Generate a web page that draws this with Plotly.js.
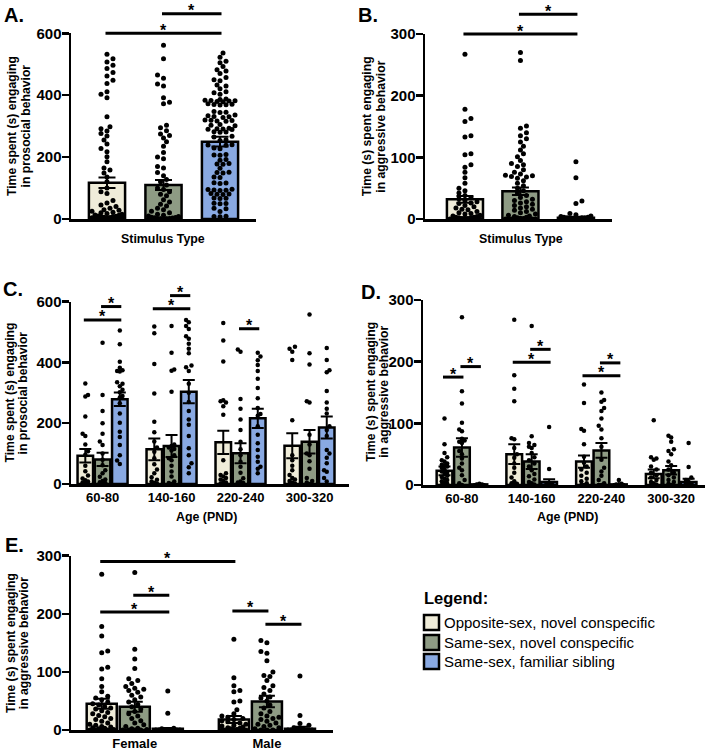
<!DOCTYPE html>
<html><head><meta charset="utf-8">
<script src="https://cdn.plot.ly/plotly-3.0.1.min.js"></script>
<style>html,body{margin:0;padding:0;background:#fff}#chart{width:708px;height:750px}</style>
</head><body><div id="chart"></div>
<script>
// ================= DATA =================
const stimulusTypes = ['Opposite-sex, novel conspecific', 'Same-sex, novel conspecific', 'Same-sex, familiar sibling'];
const ageGroups = ['60-80', '140-160', '220-240', '300-320'];
const sexGroups = ['Female', 'Male'];

// Panel A: prosocial behaviour by stimulus type
const prosocialMean = [117, 110, 250];
const prosocialSEM = [17, 16, 16];
const prosocialOpp = [532, 518, 507, 497, 486, 473, 462, 448, 438, 411, 403, 392, 330, 298, 292, 284, 276, 268, 255, 242, 228, 217, 201, 185, 165, 158, 149, 136, 120, 100, 88, 82, 60, 52, 45, 40, 35, 30, 28, 25, 22, 20, 18, 15, 13, 12, 10, 9, 8, 7, 6, 5, 5, 4, 4, 3, 3, 2, 2, 2, 1, 1, 1, 1, 0, 0, 0, 0, 0, 0, 0, 0, 0, 0, 0, 0, 0, 0, 0, 0, 0, 0, 0, 0];
const prosocialSame = [561, 518, 465, 455, 436, 430, 392, 377, 372, 303, 295, 285, 275, 270, 262, 250, 235, 215, 200, 195, 170, 165, 150, 140, 128, 120, 110, 100, 95, 88, 80, 75, 62, 55, 48, 42, 35, 30, 25, 20, 15, 12, 10, 8, 6, 5, 4, 3, 2, 2, 1, 1, 1, 0, 0, 0, 0, 0, 0, 0, 0, 0, 0, 0, 0, 0, 0, 0, 0, 0, 0, 0, 0, 0];
const prosocialSib = [536, 523, 510, 505, 493, 482, 478, 470, 457, 450, 447, 433, 430, 421, 411, 408, 403, 388, 386, 384, 383, 382, 381, 380, 379, 372, 371, 370, 369, 368, 347, 345, 344, 336, 334, 331, 330, 328, 320, 319, 318, 317, 316, 305, 303, 301, 293, 292, 291, 290, 289, 282, 281, 280, 267, 265, 256, 254, 240, 239, 238, 229, 227, 208, 207, 206, 192, 190, 179, 178, 177, 164, 151, 150, 149, 136, 134, 117, 116, 115, 96, 95, 94, 93, 92, 82, 81, 80, 79, 68, 67, 66, 51, 50, 49, 35, 33, 24, 9, 8, 7];
const prosocialSig = [[0, 2, 600], [1, 2, 663]];

// Panel B: aggressive behaviour by stimulus type
const aggressMean = [32, 45, 2];
const aggressSEM = [5.5, 6, 1.5];
const aggressOpp = [267, 178, 163, 158, 135, 133, 106, 104, 88, 84, 76, 67, 58, 50, 46, 42, 38, 35, 33, 30, 28, 26, 25, 22, 20, 18, 16, 15, 12, 10, 9, 8, 6, 5, 4, 3, 3, 2, 2, 1, 1, 1, 0, 0, 0, 0, 0, 0, 0, 0, 0, 0, 0, 0, 0, 0, 0, 0, 0, 0, 0, 0, 0, 0, 0, 0, 0];
const aggressSame = [270, 257, 151, 147, 140, 135, 130, 125, 118, 112, 106, 101, 95, 90, 88, 85, 80, 76, 73, 71, 70, 69, 68, 66, 62, 58, 54, 50, 46, 42, 38, 35, 32, 30, 28, 26, 24, 22, 20, 18, 16, 14, 12, 10, 8, 6, 5, 4, 3, 2, 1, 1, 0, 0, 0, 0, 0, 0, 0, 0, 0, 0, 0, 0, 0, 0, 0];
const aggressSib = [93, 67, 29, 25, 9, 7, 5, 4, 3, 3, 2, 2, 2, 1, 1, 1, 1, 0, 0, 0, 0, 0, 0, 0, 0, 0, 0, 0, 0, 0, 0, 0, 0, 0, 0, 0, 0, 0, 0, 0, 0, 0, 0, 0, 0, 0, 0, 0, 0, 0, 0, 0, 0, 0, 0, 0, 0];
const aggressSig = [[0, 2, 300], [1, 2, 332]];

// Panel C: prosocial behaviour by age (PND)
const ageProsocialMeanOpp = [93, 114, 137, 126];
const ageProsocialMeanSame = [81, 125, 101, 139];
const ageProsocialMeanSib = [279, 304, 216, 186];
const ageProsocialSEMOpp = [22, 36, 38, 41];
const ageProsocialSEMSame = [22, 36, 33, 39];
const ageProsocialSEMSib = [22, 38, 32, 36];
const ageProsocialOpp = [
  [331, 293, 288, 222, 165, 158, 130, 108, 96, 60, 42, 28, 18, 12, 8, 5, 3, 1, 0, 0],
  [518, 496, 395, 298, 205, 170, 140, 120, 106, 85, 65, 48, 35, 22, 14, 8, 4, 1, 0, 0],
  [530, 472, 403, 276, 272, 268, 256, 228, 78, 35, 30, 25, 20, 15, 10, 5, 2, 0],
  [452, 445, 435, 408, 210, 95, 78, 60, 45, 30, 20, 15, 10, 5, 2, 0, 0]
];
const ageProsocialSame = [
  [465, 293, 240, 200, 165, 140, 128, 100, 80, 62, 45, 35, 24, 15, 10, 6, 3, 1, 0, 0, 0],
  [520, 432, 377, 373, 304, 130, 125, 120, 115, 110, 95, 85, 78, 60, 41, 25, 8, 3, 0],
  [443, 435, 280, 248, 212, 178, 139, 114, 95, 73, 57, 37, 19, 8, 5, 3, 2, 0, 0, 0],
  [558, 430, 393, 272, 268, 162, 130, 100, 95, 75, 50, 20, 10, 5, 0]
];
const ageProsocialSib = [
  [505, 460, 402, 383, 374, 372, 370, 335, 330, 322, 310, 302, 290, 285, 266, 232, 202, 172, 155, 128, 95, 77, 66],
  [540, 532, 520, 510, 486, 478, 462, 445, 430, 390, 384, 372, 330, 300, 270, 240, 212, 195, 158, 118, 95, 68, 55, 35],
  [432, 420, 407, 392, 372, 346, 316, 282, 250, 230, 225, 190, 162, 134, 112, 90, 73, 57, 50, 35],
  [448, 408, 374, 368, 306, 268, 248, 232, 190, 178, 158, 112, 100, 86, 68, 45, 40, 20, 8]
];
const ageProsocialSig = [[0, 2, 540], [1, 2, 584], [4, 6, 577], [5, 6, 620], [9, 10, 511]];

// Panel D: aggressive behaviour by age (PND)
const ageAggMeanOpp = [23, 50, 38, 18];
const ageAggMeanSame = [61, 38, 56, 24];
const ageAggMeanSib = [1, 5, 1, 5];
const ageAggSEMOpp = [7, 16, 10, 7];
const ageAggSEMSame = [15, 12, 12, 7];
const ageAggSEMSib = [0.5, 4.5, 0.7, 5];
const ageAggOpp = [
  [108, 66, 52, 45, 40, 38, 35, 33, 32, 30, 28, 25, 22, 20, 18, 15, 13, 10, 8, 6, 4, 2, 0, 0],
  [268, 178, 156, 136, 76, 74, 60, 50, 44, 35, 28, 20, 12, 6, 3, 2, 1, 0, 0, 0],
  [163, 133, 91, 88, 66, 46, 36, 30, 25, 20, 15, 10, 6, 3, 0, 0],
  [105, 45, 43, 41, 30, 25, 20, 16, 12, 8, 5, 3, 1, 0, 0]
];
const ageAggSame = [
  [272, 152, 132, 101, 90, 87, 75, 72, 70, 68, 55, 50, 43, 35, 28, 24, 16, 8, 3, 0],
  [258, 79, 68, 65, 62, 60, 52, 45, 40, 35, 30, 24, 18, 14, 9, 5, 3, 1, 0, 0],
  [150, 138, 135, 125, 120, 108, 96, 90, 76, 62, 41, 28, 22, 15, 8, 3, 0, 0],
  [80, 77, 70, 58, 55, 50, 38, 32, 25, 20, 16, 12, 8, 5, 2, 0]
];
const ageAggSib = [
  [2, 1, 1, 1, 0, 0, 0, 0, 0, 0, 0, 0, 0, 0, 0, 0, 0, 0, 0, 0],
  [94, 26, 3, 2, 1, 1, 0, 0, 0, 0, 0, 0, 0, 0, 0, 0, 0, 0],
  [8, 2, 1, 1, 0, 0, 0, 0, 0, 0, 0, 0, 0, 0, 0, 0],
  [68, 29, 12, 8, 5, 3, 2, 1, 0, 0, 0, 0, 0, 0, 0, 0]
];
const ageAggSig = [[0, 1, 175], [1, 2, 192], [4, 6, 199], [5, 6, 220], [8, 10, 177], [9, 10, 198]];

// Panel E: aggressive behaviour by sex
const sexAggMeanOpp = [45, 18];
const sexAggMeanSame = [40, 49];
const sexAggMeanSib = [2, 2.3];
const sexAggSEMOpp = [8.6, 6];
const sexAggSEMSame = [8.6, 10];
const sexAggSEMSib = [1, 3.5];
const sexAggOpp = [
  [268, 178, 162, 136, 133, 108, 105, 88, 75, 66, 58, 55, 52, 48, 45, 43, 40, 38, 36, 33, 30, 28, 25, 23, 20, 18, 15, 12, 10, 8, 6, 5, 4, 3, 2, 1, 0, 0, 0, 0],
  [156, 90, 76, 68, 66, 50, 48, 35, 28, 24, 22, 20, 18, 16, 14, 12, 10, 8, 7, 5, 4, 3, 2, 1, 1, 0, 0, 0, 0, 0, 0, 0, 0, 0]
];
const sexAggSame = [
  [271, 139, 122, 106, 88, 85, 80, 75, 72, 70, 68, 65, 60, 57, 52, 48, 44, 40, 36, 32, 28, 24, 20, 16, 12, 9, 6, 3, 2, 1, 0, 0, 0, 0],
  [154, 150, 135, 132, 119, 100, 94, 92, 85, 76, 73, 68, 62, 57, 55, 50, 43, 38, 32, 28, 24, 22, 20, 18, 15, 12, 10, 8, 6, 4, 2, 0, 0, 0]
];
const sexAggSib = [
  [67, 29, 3, 2, 1, 1, 1, 0, 0, 0, 0, 0, 0, 0, 0, 0, 0, 0, 0, 0, 0, 0, 0, 0, 0, 0, 0, 0, 0, 0, 0, 0, 0],
  [93, 25, 11, 8, 4, 2, 1, 1, 0, 0, 0, 0, 0, 0, 0, 0, 0, 0, 0, 0, 0, 0, 0, 0, 0, 0, 0, 0, 0, 0, 0, 0, 0, 0]
];
const sexAggSig = [[0, 4, 290], [0, 2, 203], [1, 2, 232], [4, 5, 205], [5, 6, 182]];

// ================= STYLE / LAYOUT =================
const FILL = ['#EFECD9', '#8E9B84', '#89A9E2'];
const FONT = 'Liberation Sans, Arial, Helvetica, sans-serif';
const W = 708, H = 750;
const PANELS = {
  A: {ax: '',  xpx: [71, 256],  ypx: [219, 33.3],  xr: [-0.637, 2.637], yr: [0, 600], ticks: [0, 200, 400, 600], barW: 0.64, capW: 8.5, dot: 5},
  B: {ax: '2', xpx: [425, 612], ypx: [219, 34],    xr: [-0.72, 2.65],   yr: [0, 300], ticks: [0, 100, 200, 300], barW: 0.65, capW: 8.5, dot: 5},
  C: {ax: '3', xpx: [71, 349],  ypx: [484, 301.7], xr: [-0.83, 15.29],  yr: [0, 600], ticks: [0, 200, 400, 600], barW: 0.9, capW: 6, dot: 4.5},
  D: {ax: '4', xpx: [423, 705], ypx: [485, 300],   xr: [-1.233, 14.94], yr: [0, 300], ticks: [0, 100, 200, 300], barW: 0.9, capW: 6, dot: 4.5},
  E: {ax: '5', xpx: [71, 333],  ypx: [730, 555.7], xr: [-0.93, 7.0],    yr: [0, 300], ticks: [0, 100, 200, 300], barW: 0.91, capW: 8, dot: 5}
};

const traces = [], shapes = [], annotations = [];
const layout = {
  width: W, height: H, margin: {l: 0, r: 0, t: 0, b: 0},
  paper_bgcolor: '#fff', plot_bgcolor: 'rgba(0,0,0,0)',
  showlegend: false, barmode: 'overlay', font: {family: FONT, color: '#000'},
  shapes: shapes, annotations: annotations
};

function xToPx(p, x) { return p.xpx[0] + (x - p.xr[0]) / (p.xr[1] - p.xr[0]) * (p.xpx[1] - p.xpx[0]); }
function yToPx(p, y) { return p.ypx[0] - (y - p.yr[0]) / (p.yr[1] - p.yr[0]) * (p.ypx[0] - p.ypx[1]); }
function PX(px) { return px / W; }
function PY(py) { return 1 - py / H; }

function swarmOffsets(vals, pxY, pxX, d, maxHalf) {
  const order = vals.map((v, i) => i).sort((a, b) => vals[a] - vals[b] || a - b);
  const placed = [], off = new Array(vals.length).fill(0);
  const step = d * 0.6;
  const kmax = Math.max(0, Math.floor(maxHalf / step));
  const cands = [0];
  for (let k = 1; k <= kmax; k++) cands.push(k * step, -k * step);
  let flip = 1;
  for (const i of order) {
    const y = vals[i] * pxY;
    let chosen = null, bestC = 0, bestD = -1;
    for (const c0 of cands) {
      const c = c0 * flip;
      let minD = Infinity;
      for (const q of placed) {
        if (Math.abs(q.y - y) < d) { const dd = Math.hypot(q.x - c, q.y - y); if (dd < minD) minD = dd; }
      }
      if (minD >= d * 0.95) { chosen = c; break; }
      if (minD > bestD) { bestD = minD; bestC = c; }
    }
    if (chosen === null) chosen = bestC;
    placed.push({x: chosen, y: y});
    off[i] = chosen / pxX;
    flip = -flip;
  }
  return off;
}

function text(str, xpx, ypx, size, opts) {
  annotations.push(Object.assign({
    text: str, x: PX(xpx), y: PY(ypx), xref: 'paper', yref: 'paper', showarrow: false,
    xanchor: 'center', yanchor: 'middle', font: {family: FONT, size: size, color: '#000', weight: 'bold'}
  }, opts || {}));
}

function buildPanel(key, means, sems, pts, groupLabels, sig) {
  const p = PANELS[key];
  const xa = 'x' + p.ax, ya = 'y' + p.ax;
  const pxX = (p.xpx[1] - p.xpx[0]) / (p.xr[1] - p.xr[0]);
  const pxY = (p.ypx[0] - p.ypx[1]) / (p.yr[1] - p.yr[0]);
  for (let s = 0; s < 3; s++) {
    traces.push({
      type: 'bar', name: stimulusTypes[s], x: means[s].map((_, g) => g * 4 + s), y: means[s], width: p.barW,
      xaxis: xa, yaxis: ya, marker: {color: FILL[s], line: {color: '#000', width: 2.5}},
      error_y: {type: 'data', array: sems[s], visible: true, color: '#000', thickness: 2, width: p.capW},
      hoverinfo: 'skip'
    });
  }
  for (let s = 0; s < 3; s++) {
    const dx = [], dy = [];
    pts[s].forEach((vals, g) => {
      const off = swarmOffsets(vals, pxY, pxX, p.dot, p.barW * pxX / 2 - 3);
      vals.forEach((v, i) => { dx.push(g * 4 + s + off[i]); dy.push(v); });
    });
    traces.push({type: 'scatter', mode: 'markers', x: dx, y: dy, xaxis: xa, yaxis: ya, cliponaxis: false,
      marker: {color: '#000', size: p.dot, line: {width: 0}}, hoverinfo: 'skip'});
  }
  layout['xaxis' + p.ax] = {
    domain: [PX(p.xpx[0]), PX(p.xpx[1])], range: p.xr, anchor: ya, showline: true, linecolor: '#000', linewidth: 2.5,
    showgrid: false, zeroline: false, ticks: '', automargin: false, fixedrange: true,
    tickvals: groupLabels ? groupLabels.map((_, g) => g * 4 + 1) : [], ticktext: groupLabels || [],
    showticklabels: !!groupLabels, tickfont: {family: FONT, size: 13, color: '#000', weight: 'bold'}
  };
  layout['yaxis' + p.ax] = {
    domain: [PY(p.ypx[0]), PY(p.ypx[1])], range: p.yr, anchor: xa, showline: true, linecolor: '#000', linewidth: 2.5,
    showgrid: false, zeroline: false, ticks: 'outside', ticklen: 7, tickwidth: 2.5, tickcolor: '#000',
    tickvals: p.ticks, automargin: false, fixedrange: true, ticklabelstandoff: -3,
    tickfont: {family: FONT, size: 15, color: '#000', weight: 'bold'}
  };
  sig.forEach(([a, b, y]) => {
    const x0 = xToPx(p, a) - 1.5, x1 = xToPx(p, b) + 1.5, yy = yToPx(p, y);
    shapes.push({type: 'line', xref: 'paper', yref: 'paper', x0: PX(x0), x1: PX(x1), y0: PY(yy), y1: PY(yy), line: {color: '#000', width: 3}});
    text('*', (x0 + x1) / 2, yy - 3, 16);
  });
}

buildPanel('A', [[prosocialMean[0]], [prosocialMean[1]], [prosocialMean[2]]],
  [[prosocialSEM[0]], [prosocialSEM[1]], [prosocialSEM[2]]],
  [[prosocialOpp], [prosocialSame], [prosocialSib]], null, prosocialSig);
buildPanel('B', [[aggressMean[0]], [aggressMean[1]], [aggressMean[2]]],
  [[aggressSEM[0]], [aggressSEM[1]], [aggressSEM[2]]],
  [[aggressOpp], [aggressSame], [aggressSib]], null, aggressSig);
buildPanel('C', [ageProsocialMeanOpp, ageProsocialMeanSame, ageProsocialMeanSib],
  [ageProsocialSEMOpp, ageProsocialSEMSame, ageProsocialSEMSib],
  [ageProsocialOpp, ageProsocialSame, ageProsocialSib], ageGroups, ageProsocialSig);
buildPanel('D', [ageAggMeanOpp, ageAggMeanSame, ageAggMeanSib],
  [ageAggSEMOpp, ageAggSEMSame, ageAggSEMSib],
  [ageAggOpp, ageAggSame, ageAggSib], ageGroups, ageAggSig);
buildPanel('E', [sexAggMeanOpp, sexAggMeanSame, sexAggMeanSib],
  [sexAggSEMOpp, sexAggSEMSame, sexAggSEMSib],
  [sexAggOpp, sexAggSame, sexAggSib], sexGroups, sexAggSig);

// panel letters
text('A.', 14, 15, 20); text('B.', 368, 15, 20); text('C.', 13, 289, 20); text('D.', 371, 292, 20); text('E.', 14, 545, 20);
// y-axis titles (two lines each)
const rot = {textangle: -90};
text('Time spent (s) engaging', 12, 126, 12.2, rot); text('in prosocial behavior', 25.5, 126, 12.2, rot);
text('Time (s) spent engaging', 367.8, 126.5, 12.2, rot); text('in aggressive behavior', 381.2, 126.5, 12.2, rot);
text('Time spent (s) engaging', 9.5, 393, 12.2, rot); text('in prosocial behavior', 22.5, 393, 12.2, rot);
text('Time (s) spent engaging', 370.8, 392, 12.2, rot); text('in aggressive behavior', 383.8, 392, 12.2, rot);
text('Time (s) spent engaging', 11, 643, 12.2, rot); text('in aggressive behavior', 24.2, 643, 12.2, rot);
// x-axis titles
text('Stimulus Type', 163.3, 238.5, 12.4); text('Stimulus Type', 520.5, 238.5, 12.4);
text('Age (PND)', 206, 516.5, 12.4); text('Age (PND)', 567, 516.5, 12.4);

// legend
text('Legend:', 422, 597.5, 16.5, {xanchor: 'left'});
const legRows = [622.5, 642.5, 661.5];
stimulusTypes.forEach((name, s) => {
  const yc = legRows[s];
  shapes.push({type: 'rect', xref: 'paper', yref: 'paper', x0: PX(424), x1: PX(439), y0: PY(yc + 7.5), y1: PY(yc - 7.5),
    fillcolor: FILL[s], line: {color: '#000', width: 2.5}});
  annotations.push({text: name, x: PX(441.5), y: PY(yc), xref: 'paper', yref: 'paper', showarrow: false,
    xanchor: 'left', yanchor: 'middle', font: {family: FONT, size: 15, color: '#000'}});
});

Plotly.newPlot('chart', traces, layout, {staticPlot: true, displayModeBar: false});
</script>
</body></html>
